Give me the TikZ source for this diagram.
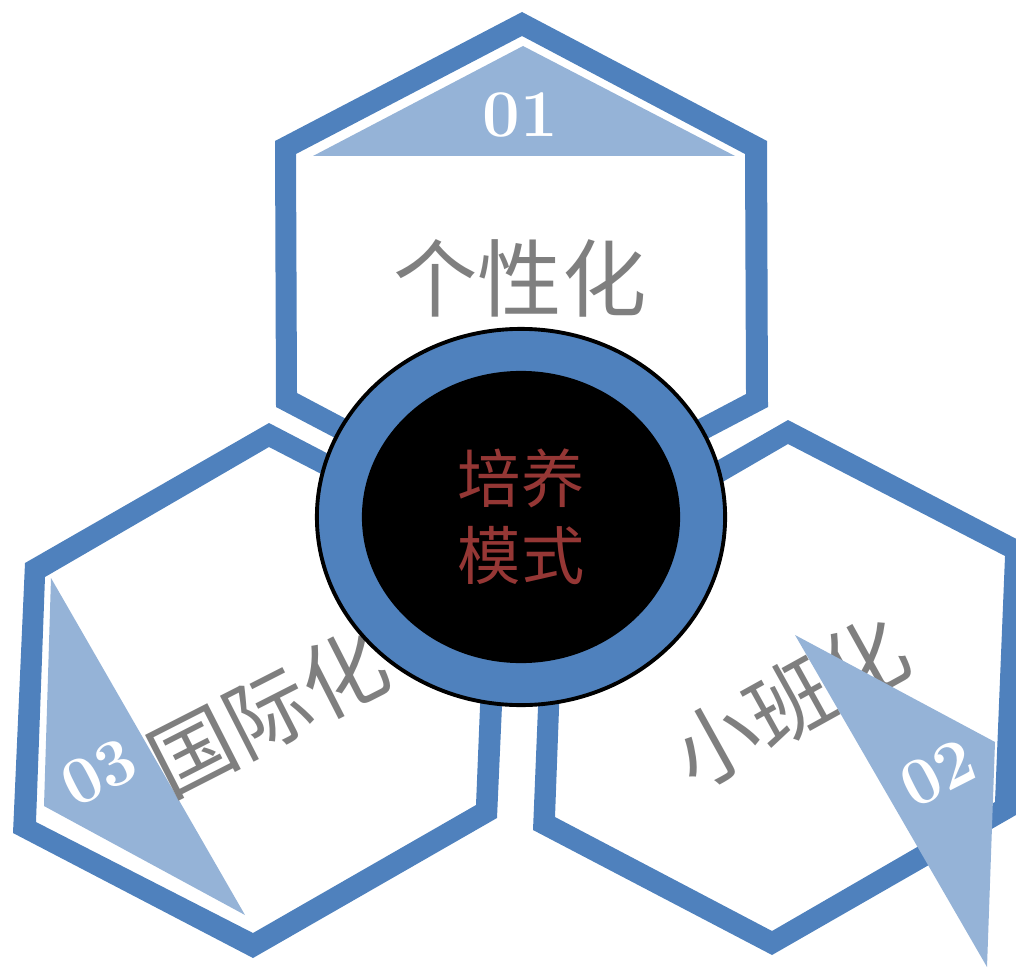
\documentclass[tikz,border=0pt]{standalone}
\usepackage{fontspec}
\newfontfamily\cjk{Noto Sans CJK SC}
\usetikzlibrary{shapes.geometric}
\definecolor{hexblue}{HTML}{4F81BD}
\definecolor{paleblue}{HTML}{95B3D7}
\definecolor{wordgray}{HTML}{7F7F7F}
\definecolor{corered}{HTML}{953735}

\begin{document}
\begin{tikzpicture}[x=0.01cm,y=-0.01cm]
  \tikzset{ ring/.style={fill=hexblue,even odd rule},
    tri/.style={fill=paleblue},
    num/.style={text=white,inner sep=0pt,font=\bfseries\fontsize{19}{19}\selectfont},
    word/.style={text=wordgray,inner sep=0pt,font=\cjk\fontsize{24}{24}\selectfont},
  }
  \useasboundingbox (0,0) rectangle (1016,967);
  \clip (0,0) rectangle (1016,967);

  % the three hexagon frames
  \fill[ring] (522,12) -- (767,141) -- (768,407) -- (522,536) -- (276,407) -- (275,141) -- cycle
              (522,36) -- (745,154) -- (746,394) -- (522,512) -- (297,393) -- (296,154) -- cycle;
  \fill[ring] (269,423) -- (509,548) -- (497,818) -- (253,958) -- (13,833) -- (25,563) -- cycle
              (269,447) -- (486,559) -- (476,805) -- (253,933) -- (36,822) -- (45,577) -- cycle;
  \fill[ring] (788,420) -- (1028,545) -- (1016,815) -- (772,955) -- (533,830) -- (544,560) -- cycle
              (788,444) -- (1005,556) -- (995,802) -- (772,931) -- (555,817) -- (564,574) -- cycle;

  % corner triangles
  \fill[tri] (523,46) -- (735,156) -- (313,156) -- cycle;
  \fill[tri] (51,578) -- (245,915) -- (44,806) -- cycle;

  \node[num] (n1) at (520,115) {01};
  \node[num,rotate=27] (n3) at (99,772) {03};
  \node[word] (w1) at (520,278) {个性化};
  \node[word,rotate=27] (w3) at (268,712) {国际化};
  \node[word,rotate=29] (w2) at (790,702) {小班化};

  \fill[tri] (795,635) -- (995,742) -- (987,967) -- cycle;
  \node[num,rotate=27] (n2) at (938,773) {02};

  % the center
  \node[ellipse,draw=black,line width=1.1pt,fill=hexblue,minimum width=4.08cm,minimum height=3.76cm] (core) at (521,517) {};
  \node[ellipse,fill=black,text=corered,minimum width=3.18cm,minimum height=2.92cm,align=center,font=\cjk\fontsize{18}{22}\selectfont] (mode) at (521,517) {培养\\模式};
\end{tikzpicture}
\end{document}
